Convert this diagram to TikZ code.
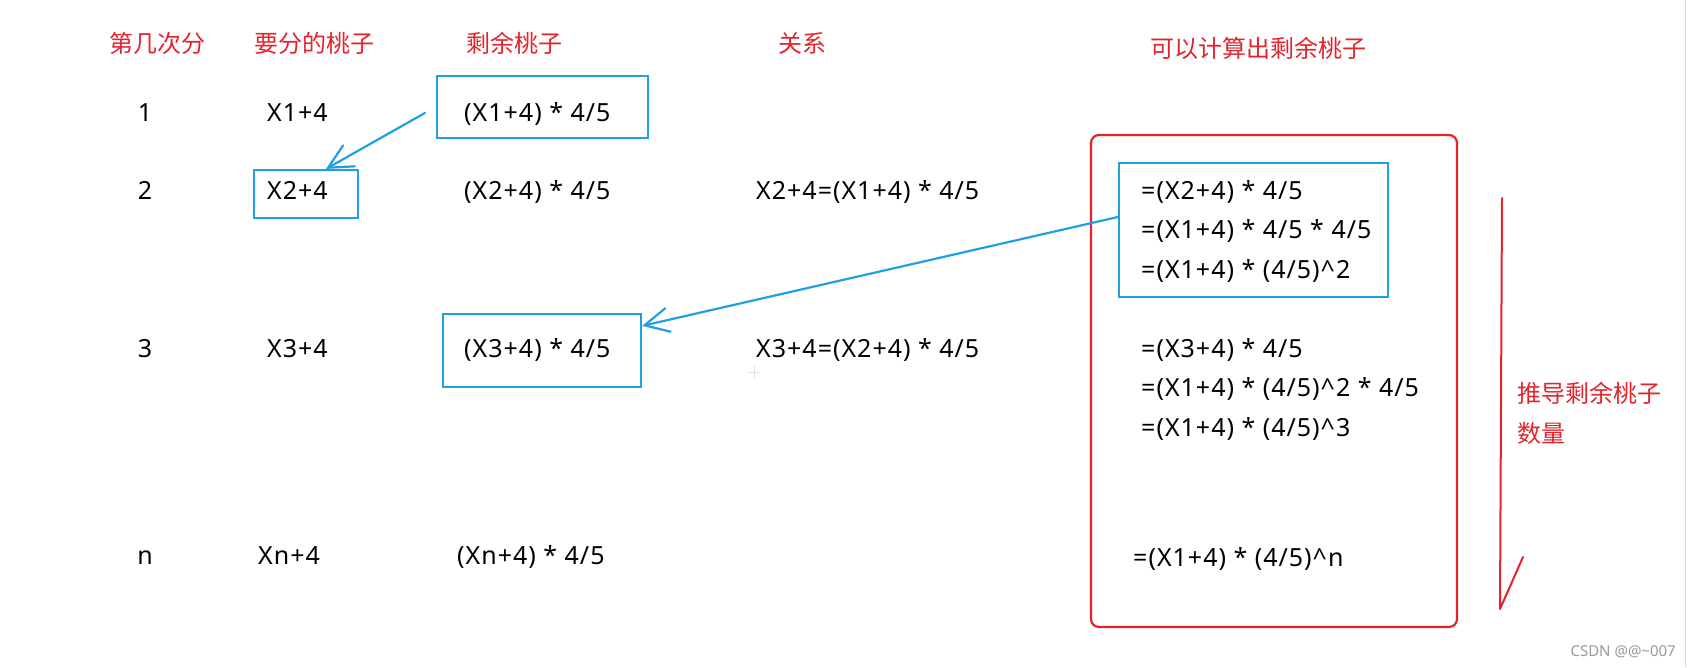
\documentclass[tikz,border=0pt]{standalone}
\usepackage{fontspec}
\setmainfont{Noto Sans}
\newfontfamily\widesans[LetterSpace=4]{Noto Sans}
\newfontfamily\cjk{Noto Sans CJK SC}
\usetikzlibrary{arrows.meta}
\definecolor{peachred}{RGB}{228,35,45}
\definecolor{peachblue}{RGB}{30,160,225}

\begin{document}
\begin{tikzpicture}[x=1pt, y=-1pt,
    every node/.style={inner sep=0pt},
    lbl/.style={font=\widesans\fontsize{25}{30}\selectfont, anchor=base west},
    num/.style={font=\widesans\fontsize{25}{30}\selectfont, anchor=base},
    hd/.style={font=\cjk\fontsize{24}{28}\selectfont, text=peachred},
    bbox/.style={draw=peachblue, line width=2.2pt},
    barrow/.style={peachblue, line width=2.2pt, line cap=round,
      -{Straight Barb[length=24pt, width=24pt, line cap=round]}},
  ]
    \useasboundingbox (0,0) rectangle (1690,667);

    \node[hd] (h1) at (157,43) {第几次分};
    \node[hd] (h2) at (314,43) {要分的桃子};
    \node[hd] (h3) at (514,43) {剩余桃子};
    \node[hd] (h4) at (802,43) {关系};
    \node[hd] (h5) at (1258,48) {可以计算出剩余桃子};

    \node[num] (n1) at (145,121) {1};
    \node[num] (n2) at (145,199) {2};
    \node[num] (n3) at (145,357) {3};
    \node[num] (nn) at (145,564) {n};

    \node[lbl] (x1) at (267,121) {X1+4};
    \node[lbl] (x2) at (267,199) {X2+4};
    \node[lbl] (x3) at (267,357) {X3+4};
    \node[lbl] (xn) at (258,564) {Xn+4};

    \node[lbl] (r1) at (464,121) {(X1+4) * 4/5};
    \node[lbl] (r2) at (464,199) {(X2+4) * 4/5};
    \node[lbl] (r3) at (464,357) {(X3+4) * 4/5};
    \node[lbl] (rn) at (457,564) {(Xn+4) * 4/5};

    \node[lbl] (rel2) at (756,199) {X2+4=(X1+4) * 4/5};
    \node[lbl] (rel3) at (756,357) {X3+4=(X2+4) * 4/5};

    \node[lbl] (d1) at (1141,199) {=(X2+4) * 4/5};
    \node[lbl] (d2) at (1141,238) {=(X1+4) * 4/5 * 4/5};
    \node[lbl] (d3) at (1141,278) {=(X1+4) * (4/5)\^{}2};
    \node[lbl] (d4) at (1141,357) {=(X3+4) * 4/5};
    \node[lbl] (d5) at (1141,396) {=(X1+4) * (4/5)\^{}2 * 4/5};
    \node[lbl] (d6) at (1141,436) {=(X1+4) * (4/5)\^{}3};
    \node[lbl] (dn) at (1133,566) {=(X1+4) * (4/5)\^{}n};

    \node[bbox, minimum width=211pt, minimum height=62pt] (b1) at (542.5,107) {};
    \node[bbox, minimum width=104pt, minimum height=48pt] (b2) at (306,194) {};
    \node[bbox, minimum width=198pt, minimum height=73pt] (b3) at (542,350.5) {};
    \node[bbox, minimum width=269pt, minimum height=134pt] (b4) at (1253.5,230) {};
    \node[draw=peachred, line width=2.2pt, rounded corners=8pt,
      minimum width=366pt, minimum height=492pt] (redbox) at (1274,381) {};

    \draw[barrow] ([xshift=-11pt, yshift=-6pt]b1.west) -- ([xshift=20pt]b2.north);
    \draw[barrow] ([yshift=13pt]b4.west) -- ([yshift=-13pt]b3.north east);

    \coordinate (t1) at (1502,198);
    \coordinate (t2) at (1500,609);
    \coordinate (t3) at (1523,557);
    \draw[peachred, line width=2pt, line cap=round, line join=round] (t1) -- (t2) -- (t3);
    \node[hd, anchor=west] (s1) at (1517,393) {推导剩余桃子};
    \node[hd, anchor=west] (s2) at (1517,433) {数量};

    \draw[black!12] (748,372) -- (760,372) (754,366) -- (754,378);
    \draw[black!15] (1685,0) -- (1685,667);
    \node[anchor=east, text=black!40, font=\fontsize{15}{18}\selectfont] (wm) at (1676,652) {CSDN @@\textasciitilde007};
\end{tikzpicture}
\end{document}
